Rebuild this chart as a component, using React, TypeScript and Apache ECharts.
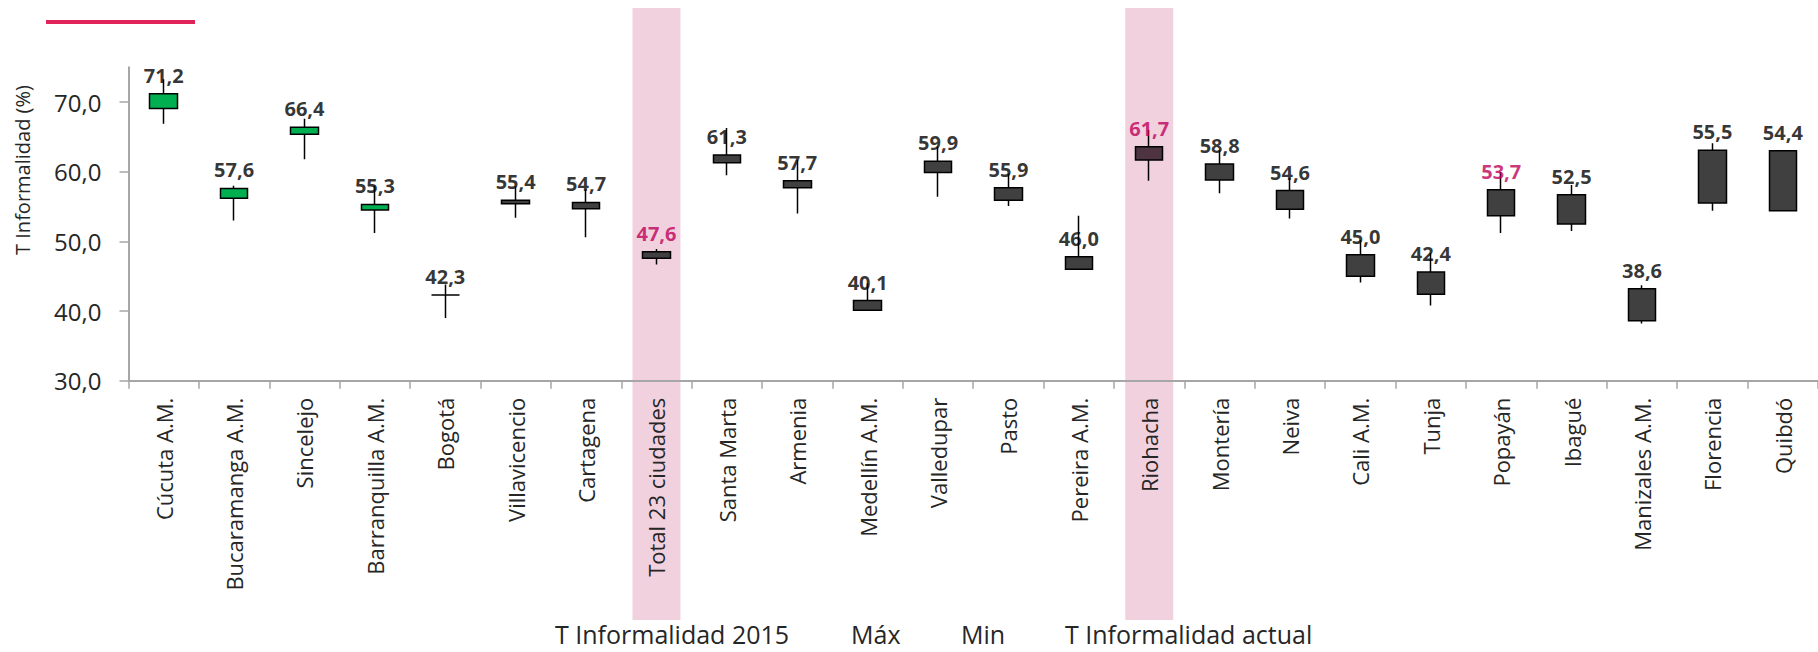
import React, { useEffect, useRef } from "react";
import * as echarts from "echarts";

const categories = [
  "Cúcuta A.M.", "Bucaramanga A.M.", "Sincelejo", "Barranquilla A.M.", "Bogotá",
  "Villavicencio", "Cartagena", "Total 23 ciudades", "Santa Marta", "Armenia",
  "Medellín A.M.", "Valledupar", "Pasto", "Pereira A.M.", "Riohacha", "Montería",
  "Neiva", "Cali A.M.", "Tunja", "Popayán", "Ibagué", "Manizales A.M.", "Florencia", "Quibdó",
];
const informalidad2015 = [69.1, 56.2, 65.4, 54.5, 42.3, 55.9, 55.6, 48.5, 62.4, 58.7, 41.5, 61.5, 57.7, 47.8, 63.6, 61.1, 57.3, 48.1, 45.6, 57.4, 56.7, 43.2, 63.1, 63.0];
const informalidadActual = [71.2, 57.6, 66.4, 55.3, 42.3, 55.4, 54.7, 47.6, 61.3, 57.7, 40.1, 59.9, 55.9, 46.0, 61.7, 58.8, 54.6, 45.0, 42.4, 53.7, 52.5, 38.6, 55.5, 54.4];
const maximo = [73.3, 58.0, 67.6, 58.0, 43.8, 57.9, 57.5, 48.9, 66.3, 61.7, 44.0, 63.6, 59.7, 53.7, 66.0, 63.1, 59.1, 50.2, 48.3, 60.0, 58.1, 43.7, 64.1, 63.0];
const minimo = [66.9, 53.0, 61.8, 51.2, 39.0, 53.4, 50.6, 46.7, 59.5, 54.0, 40.1, 56.4, 55.1, 46.0, 58.7, 56.9, 53.3, 44.1, 40.8, 51.2, 51.5, 38.2, 54.4, 54.4];
const yTicks = [30, 40, 50, 60, 70];
const highlightedCategories = ["Total 23 ciudades", "Riohacha"];
const redLabelCategories = ["Total 23 ciudades", "Riohacha", "Popayán"];
const legendLabels = ["T Informalidad 2015", "Máx", "Min", "T Informalidad actual"];

const FONT = "'Open Sans', 'Noto Sans', sans-serif";
const TEXT = "#262626";
const CRIMSON = "#C0005A";

const fmt = (v: number) => v.toFixed(1).replace(".", ",");

export default function App() {
  const ref = useRef<HTMLDivElement>(null);
  useEffect(() => {
    if (!ref.current) return;
    const chart = echarts.init(ref.current, null, { renderer: "svg" });

    const candleData = categories.map((c, i) => {
      const item: any = {
        value: [informalidad2015[i], informalidadActual[i], minimo[i], maximo[i]],
      };
      if (c === "Riohacha") {
        item.itemStyle = { color0: "#4E3441", color: "#4E3441" };
      }
      return item;
    });

    const labelData = categories.map((c, i) => ({
      value: [i, Math.max(informalidad2015[i], informalidadActual[i])],
      label: { color: redLabelCategories.includes(c) ? CRIMSON : "#000" },
    }));

    const legendX = [555, 851, 961, 1065];

    chart.setOption({
      animation: false,
      grid: { left: 128.5, top: 67.3, width: 1692, height: 313.4, containLabel: false },
      xAxis: {
        type: "category",
        data: categories,
        boundaryGap: true,
        axisLine: { lineStyle: { color: "#A6A6A6", width: 2 } },
        axisTick: { show: true, interval: 0, length: 8, lineStyle: { color: "#A6A6A6", width: 1.5 } },
        axisLabel: {
          interval: 0,
          rotate: 90,
          margin: 17,
          fontSize: 22,
          fontFamily: FONT,
          color: TEXT,
        },
        splitLine: { show: false },
        z: 5,
      },
      yAxis: {
        type: "value",
        min: 30,
        max: 75,
        interval: 10,
        axisLine: { show: true, lineStyle: { color: "#A6A6A6", width: 2 } },
        axisTick: { show: true, length: 9, customValues: yTicks, lineStyle: { color: "#A6A6A6", width: 1.5 } },
        axisLabel: {
          customValues: yTicks,
          formatter: (v: number) => fmt(v),
          fontSize: 24,
          fontFamily: FONT,
          color: TEXT,
          margin: 27,
        },
        splitLine: { show: false },
      },
      series: [
        {
          type: "candlestick",
          data: candleData,
          barWidth: 28,
          itemStyle: {
            color: "#00B050",
            color0: "#404040",
            borderColor: "#000",
            borderColor0: "#000",
            borderWidth: 1.5,
          },
          z: 3,
        },
        {
          type: "scatter",
          data: labelData,
          symbolSize: 1,
          itemStyle: { color: "rgba(0,0,0,0)" },
          label: {
            show: true,
            position: "top",
            distance: 8,
            fontSize: 20,
            fontWeight: "bold",
            fontFamily: FONT,
            formatter: (p: any) => fmt(informalidadActual[p.dataIndex]),
          },
          z: 4,
        },
      ],
    });

    const bands = highlightedCategories.map((c) => {
      const cx = chart.convertToPixel({ xAxisIndex: 0 }, c) as number;
      return {
        type: "rect",
        z: -10,
        silent: true,
        shape: { x: cx - 24, y: 8, width: 48, height: 612 },
        style: { fill: "#F2D1DF" },
      };
    });

    chart.setOption({
      graphic: [
        ...bands,
        {
          type: "rect",
          shape: { x: 46, y: 20, width: 149, height: 4 },
          style: { fill: "#E0245A" },
        },
        {
          type: "text",
          x: 22,
          y: 170,
          rotation: Math.PI / 2,
          style: {
            text: "T Informalidad (%)",
            fontSize: 20,
            fontFamily: FONT,
            fill: TEXT,
            textAlign: "center",
            textVerticalAlign: "middle",
          },
        },
        ...legendLabels.map((t, i) => ({
          type: "text",
          x: legendX[i],
          y: 634,
          style: {
            text: t,
            fontSize: 25,
            lineHeight: 25,
            fontFamily: FONT,
            fill: TEXT,
            textAlign: "left",
            textVerticalAlign: "middle",
          },
        })),
      ],
    });

    return () => chart.dispose();
  }, []);

  return (
    <div
      ref={ref}
      style={{ position: "absolute", left: 0, top: 0, width: 1818, height: 652 }}
    />
  );
}
